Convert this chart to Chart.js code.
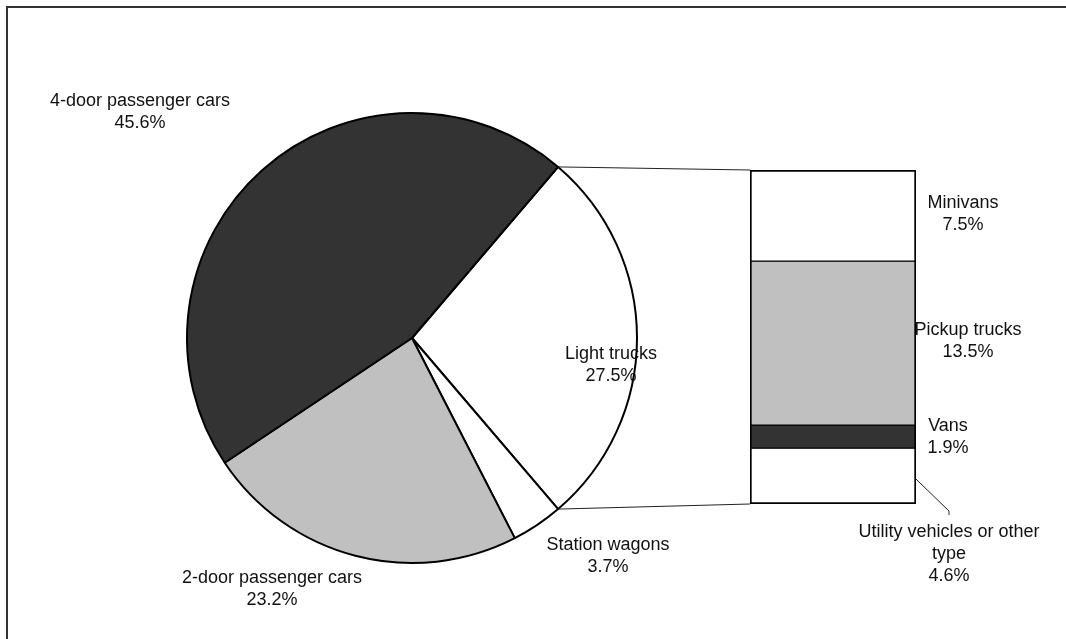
<!DOCTYPE html>
<html>
<head>
<meta charset="utf-8">
<script src="https://cdn.jsdelivr.net/npm/chart.js@4.4.1/dist/chart.umd.min.js"></script>
<style>
  html, body { margin: 0; padding: 0; background: #fff; }
  #wrap { position: relative; width: 1066px; height: 639px; overflow: hidden; }
  #wrap canvas { position: absolute; left: 0; top: 0; }
  #frame { position: absolute; left: 6px; top: 6px; width: 1100px; height: 700px;
           border-left: 2px solid #333; border-top: 2px solid #333; }
</style>
</head>
<body>
<div id="wrap">
  <div id="frame"></div>
  <canvas id="pie" width="1066" height="639"></canvas>
  <canvas id="bar" width="1066" height="639"></canvas>
</div>
<script>
// pie: main categories (share of all vehicles, %)
const pieLabels = [["Light trucks"], ["Station wagons"], ["2-door passenger cars"], ["4-door passenger cars"]];
const pieValues = [27.5, 3.7, 23.2, 45.6];
const pieColors = ["#ffffff", "#ffffff", "#c0c0c0", "#333333"];

// bar: breakdown of light trucks (%)
const barLabels = [["Minivans"], ["Pickup trucks"], ["Vans"], ["Utility vehicles or other", "type"]];
const barValues = [7.5, 13.5, 1.9, 4.6];
const barColors = ["#ffffff", "#c0c0c0", "#333333", "#ffffff"];

// label anchor points (center of first line)
const pieLabelPos = [[611, 354], [608, 545], [272, 578], [140, 101]];
const barLabelPos = [[963, 203], [968, 330], [948, 426], [949, 532]];

const FONT = '18px "Liberation Sans", Arial, sans-serif';
const LINE = 22;
const fmt = v => v.toFixed(1) + "%";

function drawLabel(ctx, lines, value, x, y) {
  ctx.save();
  ctx.font = FONT;
  ctx.fillStyle = "#111";
  ctx.textAlign = "center";
  ctx.textBaseline = "middle";
  const all = lines.concat([fmt(value)]);
  all.forEach((t, i) => ctx.fillText(t, x, y + i * LINE));
  ctx.restore();
}

const pieTotal = pieValues.reduce((a, b) => a + b, 0);

const pieChart = new Chart(document.getElementById("pie"), {
  type: "pie",
  data: {
    labels: pieLabels.map(l => l.join(" ")),
    datasets: [{
      data: pieValues,
      backgroundColor: pieColors,
      borderColor: "#000",
      borderWidth: 2
    }]
  },
  options: {
    responsive: false,
    animation: false,
    radius: 225,
    rotation: 90 - pieValues[0] / pieTotal * 180,
    layout: { padding: { left: 186, right: 428, top: 112, bottom: 75 } },
    plugins: { legend: { display: false }, tooltip: { enabled: false } }
  },
  plugins: [{
    id: "pieLabels",
    afterDraw(chart) {
      pieLabels.forEach((l, i) => drawLabel(chart.ctx, l, pieValues[i], pieLabelPos[i][0], pieLabelPos[i][1]));
    }
  }]
});

const barTotal = barValues.reduce((a, b) => a + b, 0);
const last = barValues.length - 1;

new Chart(document.getElementById("bar"), {
  type: "bar",
  data: {
    labels: ["Light trucks"],
    datasets: barValues.map((v, i) => ({
      label: barLabels[i].join(" "),
      data: [v],
      backgroundColor: barColors[i],
      borderColor: "#000",
      borderWidth: { left: 2, right: 2, top: i === 0 ? 2 : 1, bottom: i === last ? 2 : 1 },
      borderSkipped: false,
      barPercentage: 1,
      categoryPercentage: 1
    }))
  },
  options: {
    responsive: false,
    animation: false,
    layout: { padding: { left: 750, right: 150, top: 170, bottom: 135 } },
    scales: {
      x: { stacked: true, display: false },
      y: { stacked: true, display: false, reverse: true, min: 0, max: barTotal }
    },
    plugins: { legend: { display: false }, tooltip: { enabled: false } }
  },
  plugins: [{
    id: "connectors",
    afterDraw(chart) {
      const ctx = chart.ctx;
      const arc = pieChart.getDatasetMeta(0).data[0];
      const { x, y, startAngle, endAngle, outerRadius } =
        arc.getProps(["x", "y", "startAngle", "endAngle", "outerRadius"], true);
      const first = chart.getDatasetMeta(0).data[0];
      const lastEl = chart.getDatasetMeta(last).data[0];
      const left = first.x - first.width / 2;
      const right = first.x + first.width / 2;
      const top = Math.min(first.y, first.base);
      const bottom = Math.max(lastEl.y, lastEl.base);

      ctx.save();
      ctx.strokeStyle = "#222";
      ctx.lineWidth = 1;
      ctx.beginPath();
      ctx.moveTo(x + outerRadius * Math.cos(startAngle), y + outerRadius * Math.sin(startAngle));
      ctx.lineTo(left, top);
      ctx.moveTo(x + outerRadius * Math.cos(endAngle), y + outerRadius * Math.sin(endAngle));
      ctx.lineTo(left, bottom);
      // leader for the utility label
      const midU = (lastEl.y + lastEl.base) / 2;
      const [lx, ly] = barLabelPos[last];
      ctx.moveTo(right, midU + 3);
      ctx.lineTo(lx, ly - 21);
      ctx.lineTo(lx, ly - 17);
      ctx.stroke();
      ctx.restore();

      barLabels.forEach((l, i) => drawLabel(ctx, l, barValues[i], barLabelPos[i][0], barLabelPos[i][1]));
    }
  }]
});
</script>
</body>
</html>
